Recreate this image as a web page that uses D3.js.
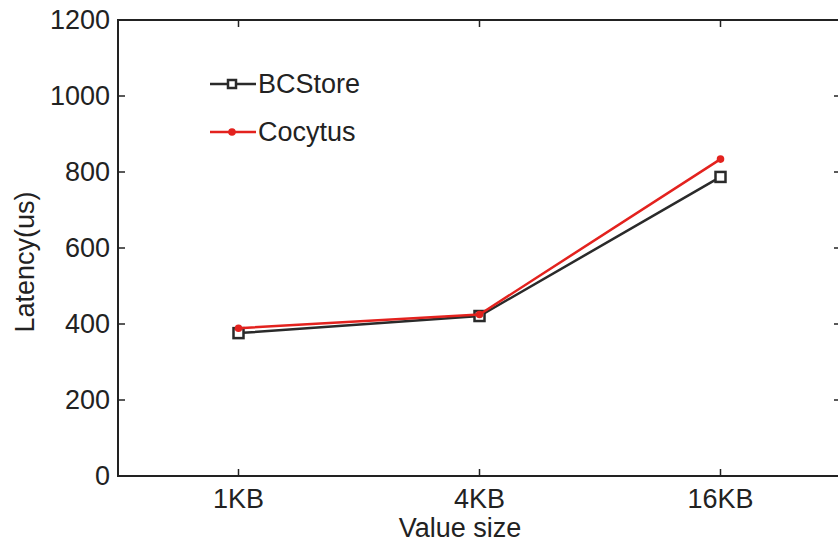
<!DOCTYPE html>
<html>
<head>
<meta charset="utf-8">
<script src="https://cdn.jsdelivr.net/npm/d3@7"></script>
<style>
  body { margin: 0; background: #fff; }
  text { font-family: "Liberation Sans", Arial, sans-serif; fill: #222; }
</style>
</head>
<body>
<svg id="chart" width="838" height="544"></svg>
<script>
// data
const categories = ['1KB', '4KB', '16KB']
const bcstore = [376, 421, 787]
const cocytus = [389, 425, 834]
const yTicks = [0, 200, 400, 600, 800, 1000, 1200]

const width = 838, height = 544
const margin = { top: 20, right: -3, bottom: 68, left: 118 }

const svg = d3.select('#chart')
svg.append('rect').attr('width', width).attr('height', height).attr('fill', '#fff')

const x = d3.scaleLinear([0.5, categories.length + 0.5], [margin.left, width - margin.right])
const y = d3.scaleLinear([0, 1200], [height - margin.bottom, margin.top])

const fontSize = 27
const tickLen = 7
const axisColor = '#222'

// box
svg.append('rect')
  .attr('x', x.range()[0]).attr('y', y.range()[1])
  .attr('width', x.range()[1] - x.range()[0])
  .attr('height', y.range()[0] - y.range()[1])
  .attr('fill', 'none').attr('stroke', axisColor).attr('stroke-width', 2)

// x ticks (bottom + top, inward)
const xt = svg.append('g')
categories.forEach((c, i) => {
  const px = x(i + 1)
  xt.append('line').attr('x1', px).attr('x2', px)
    .attr('y1', y(0)).attr('y2', y(0) - tickLen)
    .attr('stroke', axisColor).attr('stroke-width', 1.5)
  xt.append('line').attr('x1', px).attr('x2', px)
    .attr('y1', y(1200)).attr('y2', y(1200) + tickLen)
    .attr('stroke', axisColor).attr('stroke-width', 1.5)
  xt.append('text').attr('x', px).attr('y', y(0) + 32)
    .attr('text-anchor', 'middle').attr('font-size', fontSize).text(c)
})

// y ticks (left + right, inward)
const yt = svg.append('g')
yTicks.forEach((v) => {
  const py = y(v)
  if (v > 0 && v < 1200) {
    yt.append('line').attr('x1', x.range()[0]).attr('x2', x.range()[0] + tickLen)
      .attr('y1', py).attr('y2', py).attr('stroke', axisColor).attr('stroke-width', 1.5)
    yt.append('line').attr('x1', x.range()[1]).attr('x2', x.range()[1] - tickLen)
      .attr('y1', py).attr('y2', py).attr('stroke', axisColor).attr('stroke-width', 1.5)
  }
  yt.append('text').attr('x', x.range()[0] - 8).attr('y', py)
    .attr('dy', '0.35em').attr('text-anchor', 'end').attr('font-size', fontSize).text(v)
})

// axis titles
svg.append('text').attr('x', 460).attr('y', 537)
  .attr('text-anchor', 'middle').attr('font-size', fontSize).text('Value size')
svg.append('text')
  .attr('transform', `translate(34,262) rotate(-90)`)
  .attr('text-anchor', 'middle').attr('font-size', fontSize).text('Latency(us)')

const line = d3.line().x((d, i) => x(i + 1)).y((d) => y(d))

const series = [
  { name: 'BCStore', values: bcstore, color: '#2a2a2a', marker: 'square' },
  { name: 'Cocytus', values: cocytus, color: '#e3221e', marker: 'dot' },
]

function drawMarker(g, s, cx, cy, size) {
  if (s.marker === 'square') {
    g.append('rect').attr('x', cx - size / 2).attr('y', cy - size / 2)
      .attr('width', size).attr('height', size)
      .attr('fill', '#fff').attr('stroke', s.color).attr('stroke-width', 2.5)
  } else {
    g.append('circle').attr('cx', cx).attr('cy', cy).attr('r', 3.8).attr('fill', s.color)
  }
}

series.forEach((s) => {
  const g = svg.append('g')
  g.append('path').attr('d', line(s.values)).attr('fill', 'none')
    .attr('stroke', s.color).attr('stroke-width', 2.5)
  s.values.forEach((v, i) => drawMarker(g, s, x(i + 1), y(v), 10))
})

// legend
const legend = svg.append('g')
series.forEach((s, i) => {
  const ly = 84 + i * 48
  legend.append('line').attr('x1', 210).attr('x2', 256).attr('y1', ly).attr('y2', ly)
    .attr('stroke', s.color).attr('stroke-width', 2.5)
  drawMarker(legend, s, 232, ly, 8)
  legend.append('text').attr('x', 258).attr('y', ly).attr('dy', '0.35em')
    .attr('font-size', fontSize).text(s.name)
})
</script>
</body>
</html>
